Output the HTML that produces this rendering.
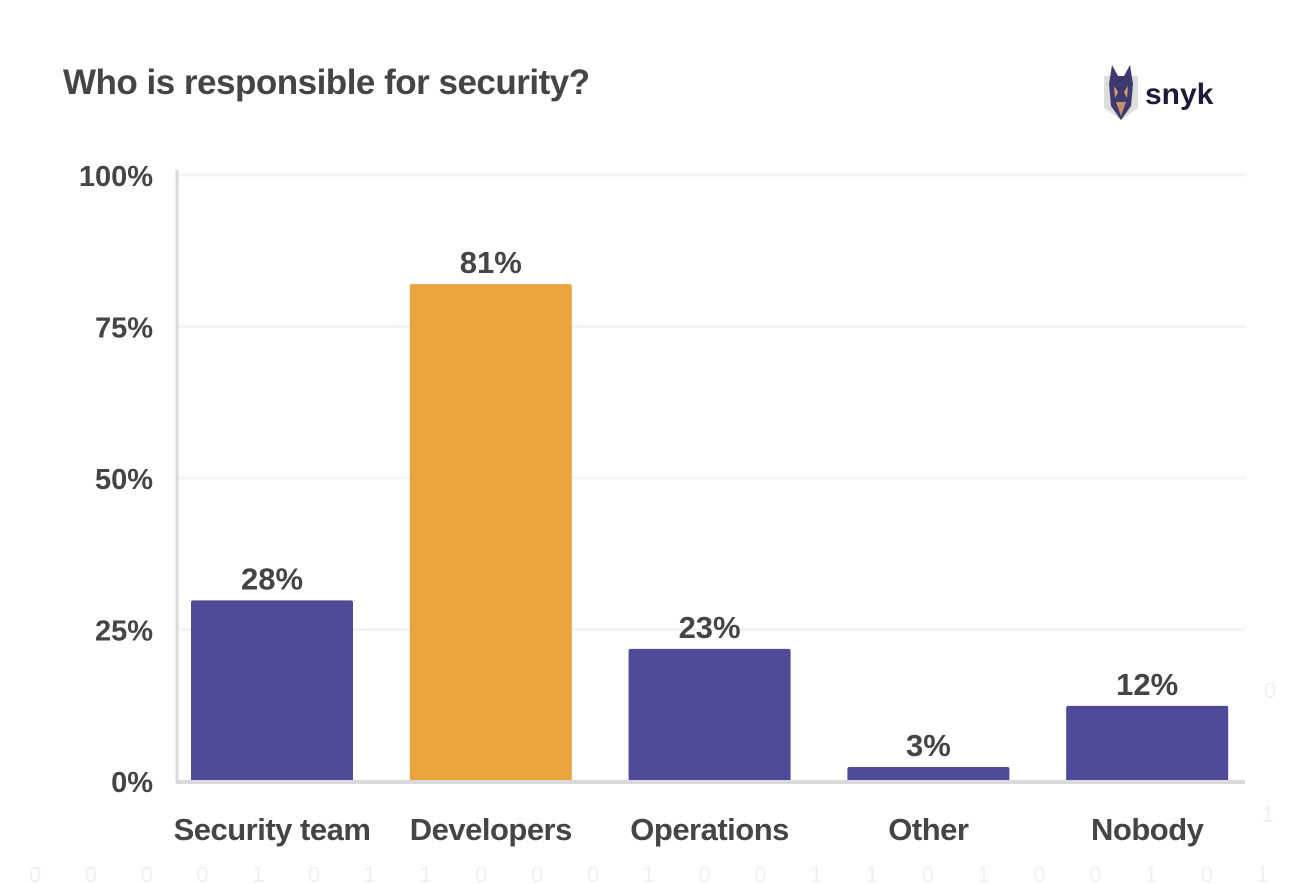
<!DOCTYPE html>
<html><head><meta charset="utf-8"><style>
html,body{margin:0;padding:0;background:#fff;}
body{width:1310px;height:884px;overflow:hidden;position:relative;font-family:"Liberation Sans",sans-serif;}
#title{position:absolute;left:63px;top:63px;font-size:35px;font-weight:bold;color:#454545;letter-spacing:-0.5px;}
#logo{position:absolute;left:1100px;top:62px;}
</style></head><body>
<div id="title">Who is responsible for security?</div>
<svg id="logo" width="130" height="64">
<path d="M4 14 L38 14 L38 46 L21 58 L4 46 Z" fill="#ddd"/>
<path d="M9 22 L12 3 L18 14 L24 14 L30 3 L33 22 L31 44 L21 58 L11 44 Z" fill="#3e3a6e"/>
<path d="M14 24 L18 30 L15 36 Z M28 24 L24 30 L27 36 Z" fill="#d9a07a"/>
<path d="M16 40 L21 54 L26 40 Z" fill="#c7906c"/>
<text x="45" y="42" font-family="Liberation Sans" font-weight="bold" font-size="30" fill="#1e1b3a">snyk</text>
</svg>
<svg id="chart" width="1310" height="884" style="position:absolute;left:0;top:0"></svg>
<script>
const categories=["Security team","Developers","Operations","Other","Nobody"];
const values=[29.8,82,21.8,2.3,12.4];
const valueLabels=["28%","81%","23%","3%","12%"];
const ticks=[0,25,50,75,100];
const tickLabels=["0%","25%","50%","75%","100%"];
const highlight=[false,true,false,false,false];
const digits=["0","0","0","0","1","0","1","1","0","0","0","1","0","0","1","1","0","1","0","0","1","0","1"];
const NS="http://www.w3.org/2000/svg";
const svg=document.getElementById('chart');
const y0=781,ppu=6.06;
const y=v=>y0-v*ppu;
const x=i=>191+i*218.8;
const bw=162;
function mk(t,a){const e=document.createElementNS(NS,t);for(const k in a)e.setAttribute(k,a[k]);svg.appendChild(e);return e;}
ticks.forEach((t,i)=>{
 if(t>0){const g=mk('line',{x1:178,x2:1245,y1:y(t),y2:y(t),stroke:'#f4f4f4','stroke-width':3});
 
 }
 const tx=mk('text',{x:153,y:y(t)+11,'text-anchor':'end','font-size':29,'font-weight':'bold',fill:'#454545'});
 tx.textContent=tickLabels[i];
 
 
});
const ax=mk('line',{x1:177,x2:177,y1:170,y2:782,stroke:'#d9d9d9','stroke-width':3});


categories.forEach((c,i)=>{
 const b=mk('rect',{x:x(i),y:y(values[i]),width:bw,height:values[i]*ppu,rx:2,fill:highlight[i]?'#eaa43d':'#4f4a9a'});
 
 
 const v=mk('text',{x:x(i)+bw/2,y:y(values[i])-11,'text-anchor':'middle','font-size':31,'font-weight':'bold',fill:'#454545'});
 v.textContent=valueLabels[i];
 
 
 const l=mk('text',{x:x(i)+bw/2,y:840,'text-anchor':'middle','font-size':31,'font-weight':'bold',fill:'#454545','letter-spacing':'-0.5'});
 l.textContent=c;
 
 
});
const base=mk('line',{x1:176,x2:1245,y1:782,y2:782,stroke:'#d9d9d9','stroke-width':4});


digits.forEach((d,i)=>{
 const t=mk('text',{x:35+i*55.8,y:882,'text-anchor':'middle','font-size':22,fill:'#efeff6'});
 t.textContent=d;
 
 
});
[["0",1270,698],["1",1268,822]].forEach(a=>{
 const t=mk('text',{x:a[1],y:a[2],'text-anchor':'middle','font-size':22,fill:'#efeff6'});
 t.textContent=a[0];
 
 
});
</script>
</body></html>
